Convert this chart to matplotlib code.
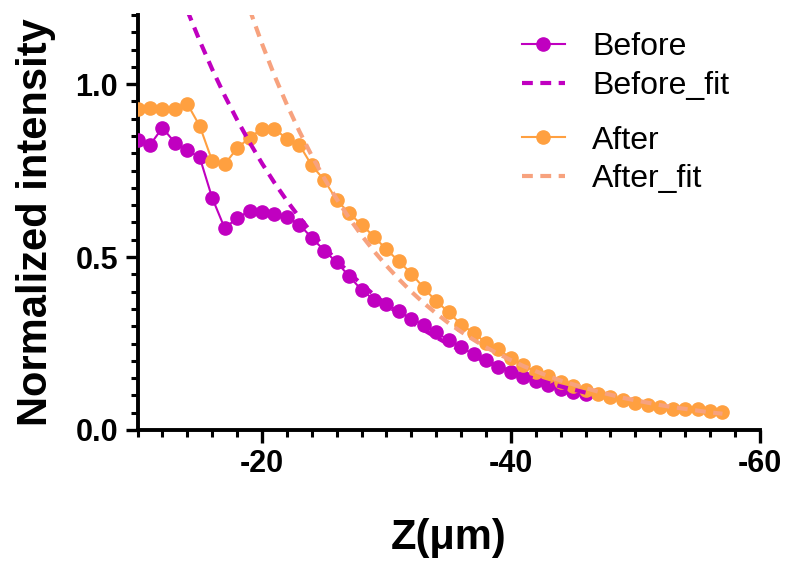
import numpy as np
import matplotlib
matplotlib.use("Agg")
import matplotlib.pyplot as plt
from matplotlib.ticker import MultipleLocator, FormatStrFormatter
from matplotlib.lines import Line2D

plt.rcParams["font.family"] = ["Liberation Sans", "DejaVu Sans"]
plt.rcParams["axes.unicode_minus"] = False

# data
z_before = list(range(-10, -47, -1))
before = [0.839, 0.824, 0.874, 0.831, 0.809, 0.788, 0.671, 0.584, 0.612, 0.634,
          0.631, 0.624, 0.617, 0.594, 0.556, 0.519, 0.485, 0.445, 0.405, 0.377,
          0.365, 0.343, 0.322, 0.303, 0.283, 0.259, 0.239, 0.219, 0.203, 0.182,
          0.168, 0.153, 0.142, 0.129, 0.118, 0.110, 0.103]

z_after = list(range(-10, -58, -1))
after = [0.927, 0.932, 0.929, 0.927, 0.943, 0.879, 0.778, 0.768, 0.815, 0.845,
         0.871, 0.871, 0.842, 0.825, 0.765, 0.723, 0.665, 0.627, 0.594, 0.559,
         0.522, 0.488, 0.452, 0.411, 0.372, 0.341, 0.305, 0.281, 0.252, 0.233,
         0.208, 0.187, 0.168, 0.155, 0.139, 0.127, 0.115, 0.103, 0.094, 0.088,
         0.077, 0.072, 0.067, 0.062, 0.060, 0.060, 0.056, 0.053]

z_before_fit = list(range(-14, -47, -1))
before_fit = [1.213, 1.125, 1.043, 0.967, 0.897, 0.832, 0.771, 0.715, 0.663, 0.615,
              0.570, 0.529, 0.490, 0.455, 0.421, 0.391, 0.363, 0.336, 0.312, 0.289,
              0.268, 0.248, 0.230, 0.214, 0.198, 0.184, 0.170, 0.158, 0.147, 0.136,
              0.126, 0.117, 0.108]

z_after_fit = list(range(-19, -58, -1))
after_fit = [1.217, 1.117, 1.025, 0.941, 0.864, 0.793, 0.728, 0.668, 0.613, 0.563,
             0.517, 0.475, 0.436, 0.400, 0.367, 0.337, 0.309, 0.284, 0.261, 0.239,
             0.220, 0.202, 0.185, 0.170, 0.156, 0.143, 0.132, 0.121, 0.111, 0.102,
             0.093, 0.086, 0.079, 0.072, 0.066, 0.061, 0.056, 0.051, 0.047]

purple = "#C000C0"
orange = "#FFA040"
salmon = "#F7A27E"

fig = plt.figure(figsize=(7.89, 5.66), dpi=100)
ax = fig.add_axes([0.1743, 0.2403, 0.963 - 0.1743, 0.9735 - 0.2403])

ax.plot(z_before, before, "-o", color=purple, lw=1.5, ms=9.5, zorder=3)
ax.plot(z_before_fit, before_fit, "--", color=purple, lw=3, dashes=(2.6, 1.8), zorder=4)
ax.plot(z_after, after, "-o", color=orange, lw=1.5, ms=9.5, zorder=3)
ax.plot(z_after_fit, after_fit, "--", color=salmon, lw=3, dashes=(2.6, 1.8), zorder=4)

ax.set_xlim(-10, -60)
ax.set_ylim(0, 1.2)

for s in ["top", "right"]:
    ax.spines[s].set_visible(False)
for s in ["left", "bottom"]:
    ax.spines[s].set_linewidth(2.8)

ax.xaxis.set_minor_locator(MultipleLocator(2))
ax.yaxis.set_major_locator(MultipleLocator(0.5))
ax.yaxis.set_minor_locator(MultipleLocator(0.05))
ax.yaxis.set_major_formatter(FormatStrFormatter("%.1f"))
ax.set_xticks([-20, -40, -60])
ax.tick_params(which="major", length=9, width=2.4, labelsize=22, pad=5)
ax.tick_params(which="minor", length=5, width=2.2)
for lab in ax.get_xticklabels() + ax.get_yticklabels():
    lab.set_fontweight("bold")

ax.set_ylabel("Normalized intensity", fontsize=30, fontweight="bold", labelpad=14)
ax.set_xlabel("Z(\u03bcm)", fontsize=30, fontweight="bold", labelpad=28)

h1 = [Line2D([], [], color=purple, marker="o", lw=1.5, ms=9.5),
      Line2D([], [], color=purple, ls="--", lw=3, dashes=(2.6, 1.8))]
h2 = [Line2D([], [], color=orange, marker="o", lw=1.5, ms=9.5),
      Line2D([], [], color=salmon, ls="--", lw=3, dashes=(2.6, 1.8))]
leg_kw = dict(loc="upper left", frameon=False, fontsize=23,
              handlelength=1.35, handletextpad=0.85, labelspacing=0.28)
fig.legend(h1, ["Before", "Before_fit"], bbox_to_anchor=(0.625, 0.9936), **leg_kw)
fig.legend(h2, ["After", "After_fit"], bbox_to_anchor=(0.625, 0.829), **leg_kw)

fig.savefig("out.png", dpi=100)
